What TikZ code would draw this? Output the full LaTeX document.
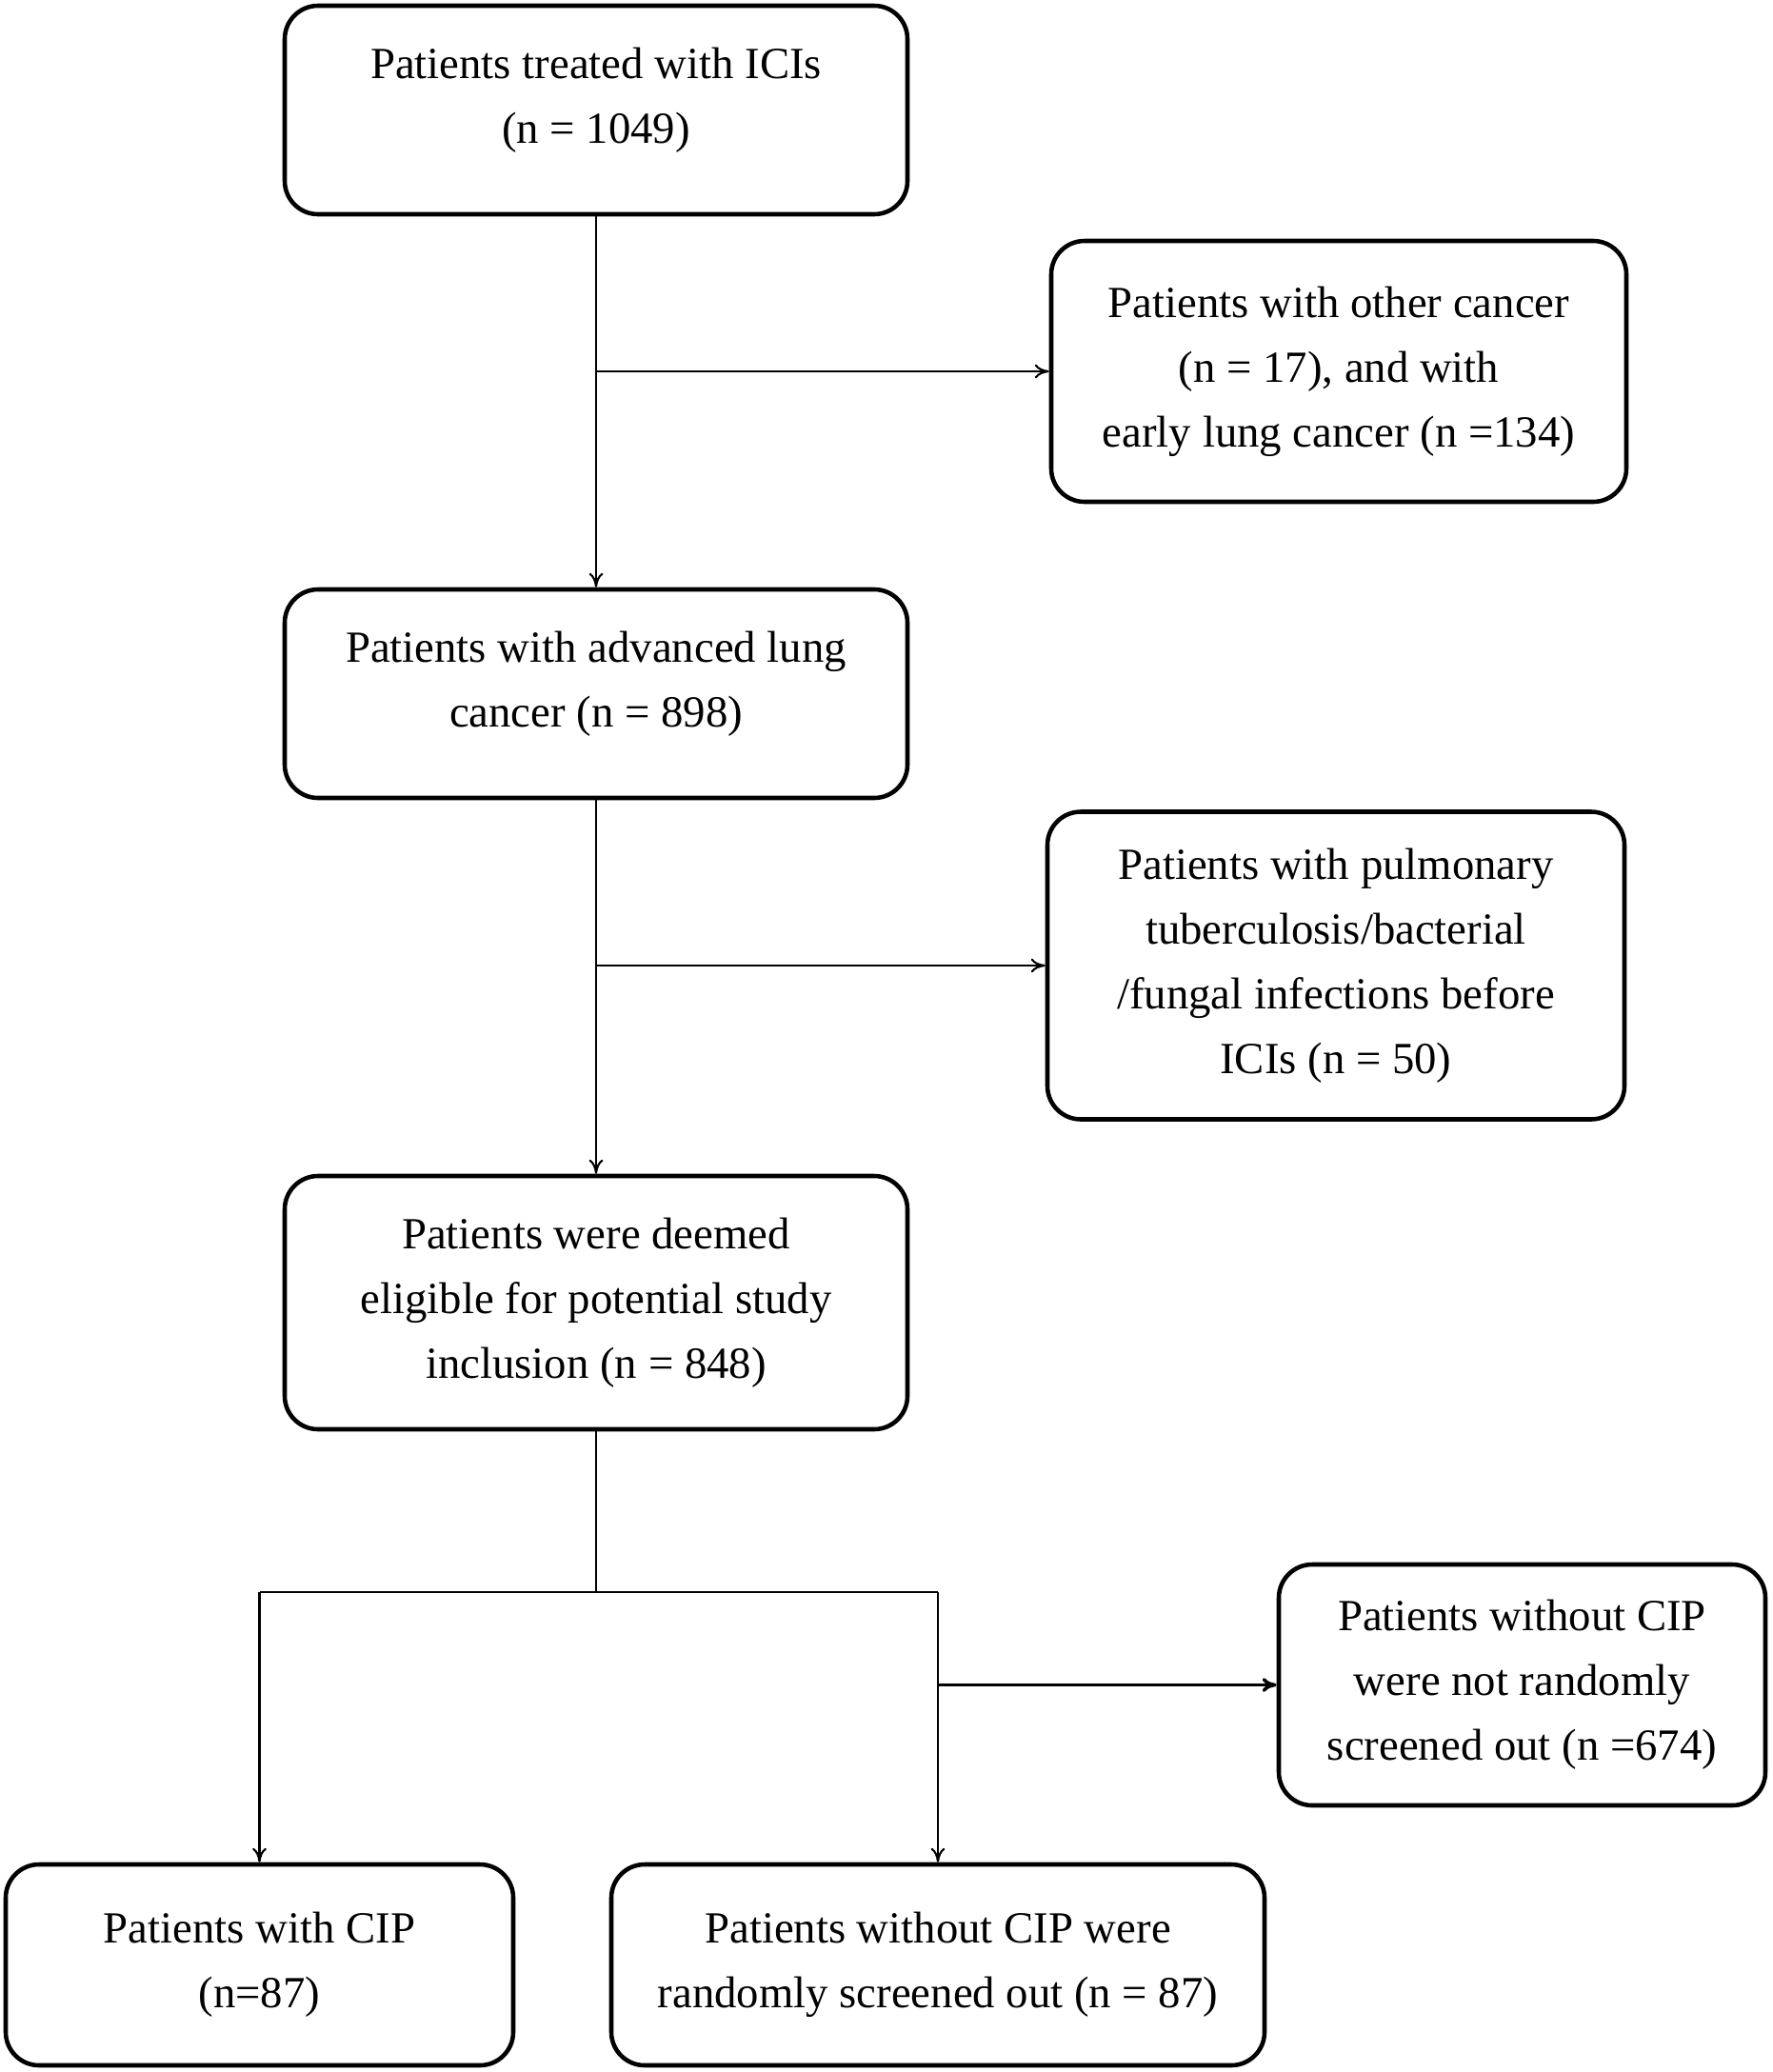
\documentclass[tikz,border=0pt]{standalone}
\usepackage{fontspec}
\setmainfont{Liberation Serif}
\usepackage{tikz}
\usetikzlibrary{arrows.meta}

\begin{document}
\begin{tikzpicture}[
	>={To[length=1.5mm,width=1.5mm]},
	box/.style={draw=black, line width=1.3pt, rounded corners=0.35cm, align=center,
		font=\fontsize{13.3pt}{19.3pt}\selectfont},
	raised/.style={text depth=0.3cm},
	link/.style={line width=0.6pt}]

	\useasboundingbox (0,0) rectangle (18.61,-21.76);

	\node[box, raised, minimum width=6.54cm, minimum height=2.19cm] (icis)  at (6.26, -1.155) {Patients treated with ICIs\\(n = 1049)};
	\node[box, minimum width=6.04cm, minimum height=2.74cm] (other) at (14.06, -3.90) {Patients with other cancer\\(n = 17), and with\\early lung cancer (n =134)};
	\node[box, raised, minimum width=6.54cm, minimum height=2.19cm] (adv)   at (6.26, -7.285) {Patients with advanced lung\\cancer (n = 898)};
	\node[box, minimum width=6.06cm, minimum height=3.23cm] (infec) at (14.03, -10.14) {Patients with pulmonary\\tuberculosis/bacterial\\/fungal infections before\\ICIs (n = 50)};
	\node[box, minimum width=6.54cm, minimum height=2.66cm] (elig)  at (6.26, -13.68) {Patients were deemed\\eligible for potential study\\inclusion (n = 848)};
	\node[box, minimum width=5.11cm, minimum height=2.53cm] (notout) at (15.985, -17.695) {Patients without CIP\\were not randomly\\screened out (n =674)};
	\node[box, minimum width=5.33cm, minimum height=2.11cm] (cip)   at (2.725, -20.635) {Patients with CIP\\(n=87)};
	\node[box, minimum width=6.86cm, minimum height=2.11cm] (nocip) at (9.85, -20.635) {Patients without CIP were\\randomly screened out (n = 87)};

	\coordinate (j1) at (6.26, -3.90);
	\coordinate (j2) at (6.26, -10.14);
	\coordinate (split) at (6.26, -16.72);
	\coordinate (sl) at (2.725, -16.72);
	\coordinate (sr) at (9.85, -16.72);
	\coordinate (j3) at (9.85, -17.695);

	\path[->, link] (icis) edge (adv);
	\path[->, link] (j1) edge (other);
	\path[->, link] (adv) edge (elig);
	\path[->, link] (j2) edge (infec);
	\path[-, link] (elig) edge (split);
	\path[-, link] (sl) edge (sr);
	\path[->, link] (sl) edge (cip);
	\path[->, link] (sr) edge (nocip);
	\path[->, line width=1pt] (j3) edge (notout);

\end{tikzpicture}
\end{document}
